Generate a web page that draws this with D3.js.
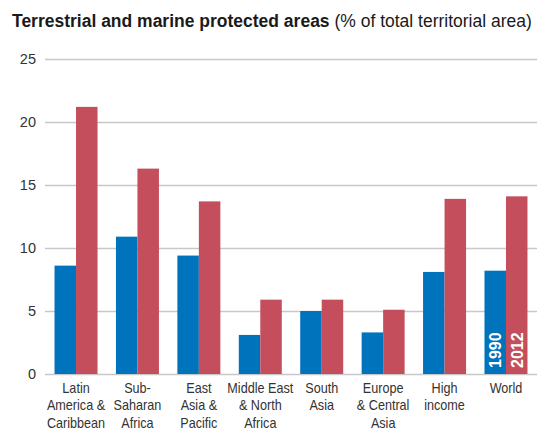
<!DOCTYPE html>
<html>
<head>
<meta charset="utf-8">
<script src="https://cdn.jsdelivr.net/npm/d3@7"></script>
<style>
  body { margin: 0; background: #fff; }
  svg { display: block; font-family: "Liberation Sans", Arial, sans-serif; }
</style>
</head>
<body>
<svg id="chart" width="537" height="433"></svg>
<script>
// data
var categories = [
  ['Latin', 'America &', 'Caribbean'],
  ['Sub-', 'Saharan', 'Africa'],
  ['East', 'Asia &', 'Pacific'],
  ['Middle East', '& North', 'Africa'],
  ['South', 'Asia'],
  ['Europe', '& Central', 'Asia'],
  ['High', 'income'],
  ['World']
];
var years = ['1990', '2012'];
var values1990 = [8.6, 10.9, 9.4, 3.1, 5.0, 3.3, 8.1, 8.2];
var values2012 = [21.2, 16.3, 13.7, 5.9, 5.9, 5.1, 13.9, 14.1];
var yTicks = [0, 5, 10, 15, 20, 25];
var colors = ['#0073bd', '#c54e5d'];

var width = 537, height = 433;
var margin = { top: 59, right: 0, bottom: 59, left: 45 };

var svg = d3.select('#chart');

// title, squeezed to the width of the reference's condensed face
var title = svg.append('text')
  .attr('x', 0)
  .attr('y', 0)
  .attr('font-size', 18.5)
  .attr('fill', '#1a1a1a');
title.append('tspan').attr('font-weight', 'bold').text('Terrestrial and marine protected areas');
title.append('tspan').text(' (% of total territorial area)');
var tw = title.node().getComputedTextLength();
title.attr('transform', 'translate(12,27) scale(' + (520 / tw) + ',1)');

var y = d3.scaleLinear()
  .domain([0, 25])
  .range([height - margin.bottom, margin.top]);

var x = d3.scaleBand()
  .domain(d3.range(categories.length))
  .range([margin.left, width - margin.right])
  .paddingInner(0.3)
  .paddingOuter(0.155);

var xi = d3.scaleBand()
  .domain([0, 1])
  .range([0, x.bandwidth()]);

// grid + y labels
var yAxis = d3.axisLeft(y)
  .tickValues(yTicks)
  .tickSize(-(width - margin.left))
  .tickPadding(9);

var gy = svg.append('g')
  .attr('transform', 'translate(' + margin.left + ',0)')
  .call(yAxis);
gy.select('.domain').remove();
gy.selectAll('.tick line').attr('stroke', '#c8c8c8').attr('stroke-width', 1.5);
gy.selectAll('.tick text')
  .attr('fill', '#333')
  .attr('font-size', 14.5)
  .attr('font-family', '"Liberation Sans", Arial, sans-serif');

// bars
var groups = svg.append('g').selectAll('g')
  .data(categories.map(function(c, i) { return [values1990[i], values2012[i]]; }))
  .join('g')
  .attr('transform', function(d, i) { return 'translate(' + x(i) + ',0)'; });

groups.selectAll('rect')
  .data(function(d) { return d; })
  .join('rect')
  .attr('x', function(d, j) { return xi(j); })
  .attr('y', function(d) { return y(d); })
  .attr('width', xi.bandwidth())
  .attr('height', function(d) { return y(0) - y(d); })
  .attr('fill', function(d, j) { return colors[j]; });

// year labels inside the last group
var last = categories.length - 1;
svg.append('g').selectAll('text')
  .data(years)
  .join('text')
  .attr('transform', function(d, j) {
    var cx = x(last) + xi(j) + xi.bandwidth() / 2 + 5.8;
    return 'translate(' + cx + ',' + (y(0) - 6) + ') rotate(-90)';
  })
  .attr('fill', '#fff')
  .attr('font-weight', 'bold')
  .attr('font-size', 16)
  .text(function(d) { return d; });

// category labels (narrowed like the reference face)
var labels = svg.append('g').selectAll('text')
  .data(categories)
  .join('text')
  .attr('text-anchor', 'middle')
  .attr('fill', '#333')
  .attr('font-size', 14.5)
  .attr('transform', function(d, i) {
    return 'translate(' + (x(i) + x.bandwidth() / 2) + ',' + (y(0) + 19) + ') scale(0.87,1)';
  });

labels.selectAll('tspan')
  .data(function(d) { return d; })
  .join('tspan')
  .attr('x', 0)
  .attr('dy', function(d, k) { return k === 0 ? 0 : 17.5; })
  .text(function(d) { return d; });
</script>
</body>
</html>
